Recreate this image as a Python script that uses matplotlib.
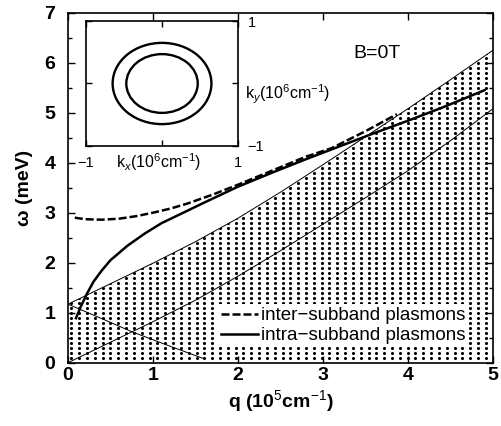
import numpy as np
import matplotlib.pyplot as plt
from matplotlib.patches import Ellipse
from matplotlib.ticker import MultipleLocator, FixedLocator, FixedFormatter

plt.rcParams['font.family'] = ['Liberation Sans', 'DejaVu Sans']
plt.rcParams['mathtext.fontset'] = 'custom'
plt.rcParams['mathtext.rm'] = 'Liberation Sans'
plt.rcParams['mathtext.it'] = 'Liberation Sans:italic'
plt.rcParams['mathtext.bf'] = 'Liberation Sans:bold'

# particle-hole continuum edges (q in 1e5 cm^-1, omega in meV)
q_edge = [0, 0.5, 1.0, 1.5, 2.0, 2.5, 3.0, 3.5, 4.0, 4.5, 5.0]
w_upper = [1.17, 1.58, 1.99, 2.42, 2.89, 3.41, 3.96, 4.52, 5.08, 5.66, 6.25]
w_lower = [0.0, 0.41, 0.82, 1.25, 1.73, 2.24, 2.77, 3.30, 3.84, 4.44, 5.08]
q_down = [0, 0.4, 0.75, 1.2, 1.6]
w_down = [1.17, 0.88, 0.62, 0.33, 0.08]

# plasmon branches
q_inter = [0.08, 0.2, 0.4, 0.6, 0.8, 1.0, 1.2, 1.4, 1.7, 2.0, 2.4, 2.8, 3.1, 3.5, 3.87]
w_inter = [2.90, 2.87, 2.86, 2.88, 2.93, 3.00, 3.08, 3.18, 3.36, 3.56, 3.84, 4.12, 4.29, 4.63, 4.97]
q_intra = [0.094, 0.15, 0.22, 0.3, 0.4, 0.5, 0.7, 0.9, 1.1, 1.32, 1.6, 2.0, 2.4, 2.8, 3.2, 3.6, 4.0, 4.4, 4.9]
w_intra = [0.89, 1.12, 1.37, 1.62, 1.85, 2.05, 2.34, 2.58, 2.79, 2.97, 3.20, 3.52, 3.80, 4.07, 4.33, 4.59, 4.84, 5.10, 5.45]

# Fermi circles in the inset (1e6 cm^-1)
k_radii = [0.65, 0.47]

fig = plt.figure(figsize=(5.01, 4.26), dpi=100)
ax = fig.add_axes([0.1357, 0.1486, 0.8483, 0.8216])

# dotted continuum
shade = ax.fill_between(q_edge, 0, w_upper, facecolor='none', edgecolor='none')
qq, ww = np.meshgrid(np.arange(0.04, 5.0, 0.092), np.arange(0.1, 6.4, 0.1))
dots = ax.scatter(qq.ravel(), ww.ravel(), s=5, c='k', marker='o', linewidths=0, zorder=1)
dots.set_clip_path(shade.get_paths()[0], ax.transData)

ax.plot(q_edge, w_upper, color='k', lw=0.7)
ax.plot(q_edge, w_lower, color='k', lw=0.7)
ax.plot(q_down, w_down, color='k', lw=0.7)

ax.plot(q_inter, w_inter, color='k', lw=1.8, dashes=(3.2, 1.2), label='inter\u2212subband plasmons')
ax.plot(q_intra, w_intra, color='k', lw=1.8, label='intra\u2212subband plasmons')

ax.set_xlim(0, 5)
ax.set_ylim(0, 7)
ax.set_xticks([0, 1, 2, 3, 4, 5])
ax.set_yticks([0, 1, 2, 3, 4, 5, 6, 7])
ax.yaxis.set_minor_locator(MultipleLocator(0.5))
ax.tick_params(which='both', direction='in', top=True, right=True, labelsize=14, width=1)
ax.tick_params(which='major', length=5)
ax.tick_params(which='minor', length=3)
ax.tick_params(axis='x', pad=3)
ax.tick_params(axis='y', pad=9)
for lbl in ax.get_xticklabels() + ax.get_yticklabels():
    lbl.set_fontweight('bold')
for sp in ax.spines.values():
    sp.set_linewidth(1.2)

ax.set_xlabel(r'q (10$^5$cm$^{-1}$)', fontsize=14, fontweight='bold', labelpad=3)
ax.set_ylabel('\u03c9 (meV)', fontsize=14, fontweight='bold', labelpad=8)

ax.text(3.64, 6.18, 'B=0T', ha='center', va='center', fontsize=14)

leg = ax.legend(loc='lower right', bbox_to_anchor=(0.941, 0.045), fontsize=13.5,
                frameon=True, facecolor='white', edgecolor='none', framealpha=1,
                fancybox=False, borderaxespad=0, borderpad=0.15, handlelength=1.95,
                handletextpad=0.15, labelspacing=0.15)

# inset: Fermi contours
ax_in = fig.add_axes([0.1717, 0.6573, 0.3034, 0.2934])
ax_in.set_xlim(-1, 1)
ax_in.set_ylim(-1, 1)
for r in k_radii:
    ax_in.add_patch(Ellipse((0, 0), 2 * r, 2 * r, fill=False, lw=1.7, color='k'))
for axis in (ax_in.xaxis, ax_in.yaxis):
    axis.set_major_locator(FixedLocator([-1, 0, 1]))
    axis.set_major_formatter(FixedFormatter(['\u22121', '', '1']))
ax_in.tick_params(direction='in', top=True, right=True, length=4, labelsize=10.5, width=1)
ax_in.tick_params(axis='y', labelleft=False, labelright=True, pad=7)
ax_in.tick_params(axis='x', pad=7)
for sp in ax_in.spines.values():
    sp.set_linewidth(1.2)
ax_in.text(0.477, -0.13, r'k$_x$(10$^6$cm$^{-1}$)', transform=ax_in.transAxes,
           ha='center', va='center', fontsize=11.5)
ax_in.text(1.046, 0.41, r'k$_y$(10$^6$cm$^{-1}$)', transform=ax_in.transAxes,
           ha='left', va='center', fontsize=11.5)

plt.savefig('out.png', dpi=100)
